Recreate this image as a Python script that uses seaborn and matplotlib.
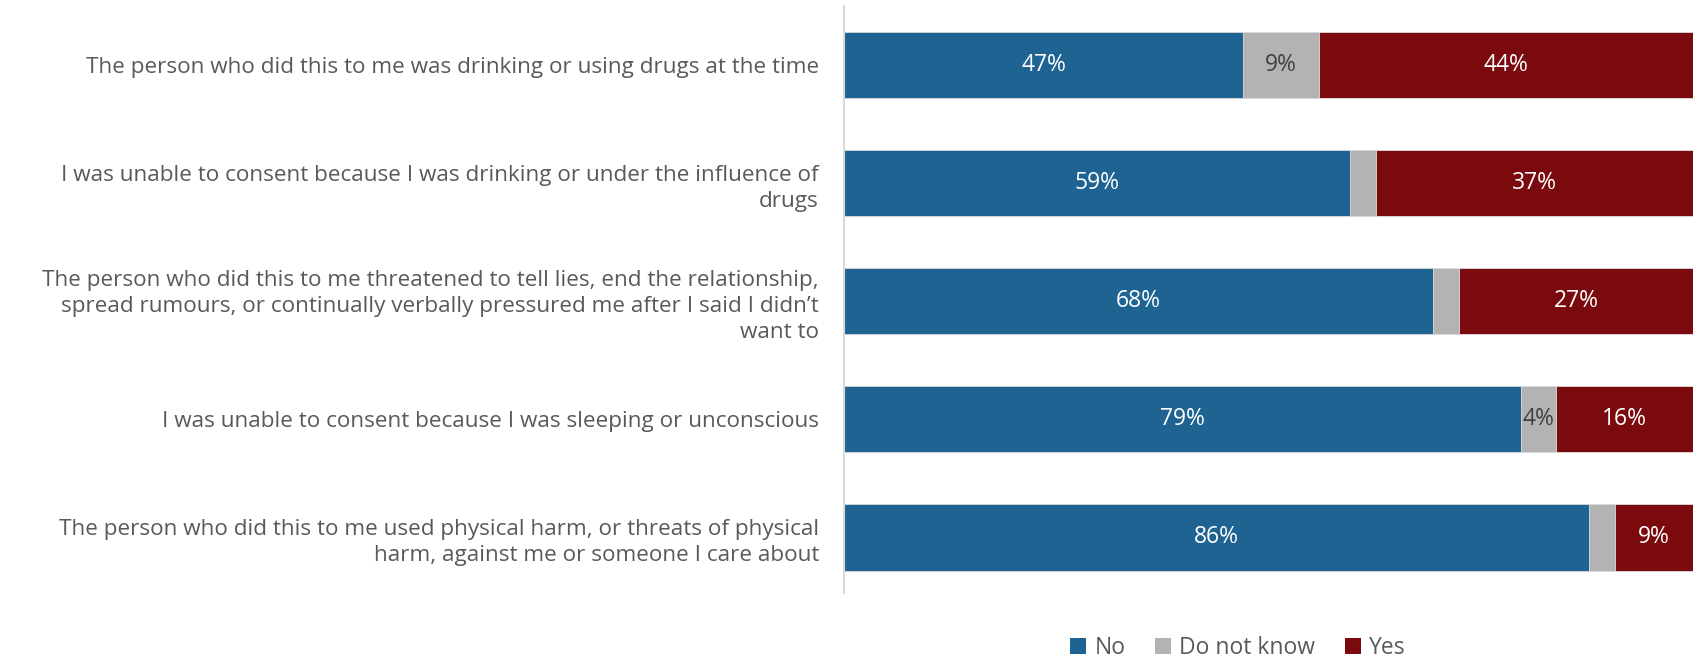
import numpy as np
import pandas as pd
import matplotlib
matplotlib.use("Agg")
import matplotlib.pyplot as plt
from matplotlib.patches import Patch
import seaborn as sns

sns.set_style("white")
plt.rcParams['font.family'] = ['Open Sans', 'DejaVu Sans']

statements = [
    "The person who did this to me was drinking or using drugs at the time",
    "I was unable to consent because I was drinking or under the influence of\ndrugs",
    "The person who did this to me threatened to tell lies, end the relationship,\nspread rumours, or continually verbally pressured me after I said I didn\u2019t\nwant to",
    "I was unable to consent because I was sleeping or unconscious",
    "The person who did this to me used physical harm, or threats of physical\nharm, against me or someone I care about",
]
no_vals = [47, 59, 68, 79, 86]
dk_vals = [9, 3, 3, 4, 3]
yes_vals = [44, 37, 27, 16, 9]
series = ["No", "Do not know", "Yes"]
colors = ["#1F6393", "#B3B3B3", "#7B0A0F"]
text_colors = ["white", "#404040", "white"]

df = pd.DataFrame({"statement": statements, "No": no_vals,
                   "Do not know": dk_vals, "Yes": yes_vals})
# 100% stacked: normalise each row
tot = df[series].sum(axis=1)
share = df[series].div(tot, axis=0) * 100
cum = share.cumsum(axis=1)

fs = 16.2
fig = plt.figure(figsize=(16.98, 6.57), dpi=100)
ax = fig.add_axes([844 / 1698, 1 - 593 / 657, (1693 - 844) / 1698, (593 - 6) / 657])

# draw cumulative totals back to front
for s, c in zip(reversed(series), reversed(colors)):
    sns.barplot(x=cum[s], y=df["statement"], orient="h", color=c, saturation=1,
                width=0.56, edgecolor="#DDDDDD", linewidth=0.6, ax=ax)

for i in range(len(df)):
    for j, s in enumerate(series):
        raw = df.loc[i, s]
        if s == "Do not know" and raw < 4:
            continue
        xc = cum.iloc[i, j] - share.iloc[i, j] / 2
        ax.text(xc, i, f"{raw}%", ha="center", va="center",
                color=text_colors[j], fontsize=16.5)

ax.set_xlim(0, 100)
ax.set_ylim(4.47, -0.5)
ax.set_xlabel("")
ax.set_ylabel("")
ax.set_xticks([])
ax.tick_params(axis="y", length=0, pad=18, labelsize=fs, labelcolor="#595959")
for lab in ax.get_yticklabels():
    lab.set_linespacing(1.32)
for sp in ["top", "right", "bottom"]:
    ax.spines[sp].set_visible(False)
ax.spines["left"].set_color("#D9D9D9")
ax.spines["left"].set_linewidth(1.5)

handles = [Patch(facecolor=c, edgecolor="none") for c in colors]
fig.legend(handles, series, loc="center", bbox_to_anchor=(1238 / 1698, 1 - 648 / 657),
           ncol=3, frameon=False, fontsize=16.5, handlelength=0.7, handleheight=0.7,
           handletextpad=0.35, columnspacing=1.3, labelcolor="#595959")

fig.savefig("out.png", dpi=100)
